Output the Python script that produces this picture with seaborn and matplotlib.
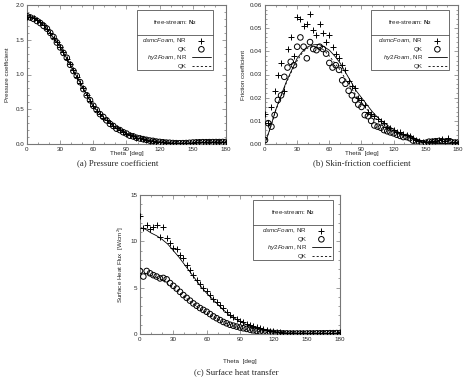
import matplotlib
matplotlib.use("Agg")
import matplotlib.pyplot as plt
from matplotlib.patches import Rectangle
from matplotlib.lines import Line2D
from matplotlib.ticker import MultipleLocator
import seaborn as sns

# theta grids [deg]
theta_dsmc = list(range(0, 181, 3))
theta_cfd = list(range(0, 181, 5))

# (a) pressure coefficient
cp_dsmc_nr = [1.83, 1.83, 1.81, 1.78, 1.75, 1.71, 1.65, 1.59, 1.53, 1.47, 1.40, 1.32, 1.23, 1.15, 1.06,
              0.97, 0.88, 0.80, 0.71, 0.62, 0.54, 0.48, 0.43, 0.38, 0.34, 0.30, 0.26, 0.23, 0.20, 0.17,
              0.15, 0.13, 0.11, 0.09, 0.08, 0.07, 0.06, 0.05, 0.04, 0.035, 0.03, 0.025, 0.02, 0.015, 0.012,
              0.01, 0.01, 0.01, 0.012, 0.015, 0.02, 0.022, 0.024, 0.025, 0.025, 0.026, 0.026, 0.027, 0.027,
              0.028, 0.028]
cp_dsmc_qk = [1.84, 1.82, 1.80, 1.77, 1.74, 1.70, 1.66, 1.60, 1.54, 1.46, 1.39, 1.31, 1.24, 1.14, 1.05,
              0.98, 0.89, 0.79, 0.70, 0.63, 0.55, 0.49, 0.43, 0.39, 0.34, 0.29, 0.26, 0.22, 0.20, 0.17,
              0.15, 0.12, 0.11, 0.09, 0.08, 0.07, 0.06, 0.05, 0.045, 0.035, 0.03, 0.025, 0.02, 0.018, 0.014,
              0.012, 0.011, 0.012, 0.014, 0.017, 0.021, 0.023, 0.025, 0.026, 0.026, 0.027, 0.027, 0.028,
              0.028, 0.029, 0.029]
cp_hy2_nr = [1.83, 1.82, 1.77, 1.71, 1.61, 1.51, 1.40, 1.26, 1.12, 0.97, 0.83, 0.68, 0.54, 0.45, 0.37,
             0.30, 0.24, 0.19, 0.15, 0.115, 0.085, 0.068, 0.053, 0.04, 0.03, 0.022, 0.015, 0.011, 0.01,
             0.012, 0.017, 0.022, 0.025, 0.026, 0.027, 0.028, 0.028]
cp_hy2_qk = [1.83, 1.81, 1.77, 1.70, 1.61, 1.50, 1.39, 1.25, 1.11, 0.97, 0.82, 0.68, 0.54, 0.45, 0.37,
             0.30, 0.24, 0.19, 0.15, 0.115, 0.088, 0.07, 0.055, 0.042, 0.032, 0.024, 0.017, 0.013, 0.012,
             0.014, 0.019, 0.023, 0.026, 0.027, 0.028, 0.029, 0.029]

# (b) skin-friction coefficient
cf_dsmc_nr = [0.013, 0.009, 0.016, 0.023, 0.030, 0.035, 0.023, 0.041, 0.046, 0.038, 0.055, 0.054, 0.051,
              0.052, 0.056, 0.049, 0.047, 0.052, 0.048, 0.044, 0.047, 0.042, 0.039, 0.037, 0.034, 0.032,
              0.027, 0.025, 0.024, 0.020, 0.019, 0.017, 0.014, 0.013, 0.012, 0.011, 0.010, 0.009, 0.0075,
              0.007, 0.006, 0.005, 0.005, 0.0045, 0.004, 0.0035, 0.0025, 0.0017, 0.0012, 0.001, 0.001,
              0.0008, 0.0012, 0.0015, 0.0017, 0.002, 0.0015, 0.0025, 0.001, 0.0008, 0.0006]
cf_dsmc_qk = [0.0017, 0.009, 0.0075, 0.0125, 0.019, 0.021, 0.029, 0.033, 0.0355, 0.034, 0.042, 0.046,
              0.042, 0.037, 0.044, 0.041, 0.0405, 0.042, 0.041, 0.039, 0.035, 0.033, 0.034, 0.032, 0.0275,
              0.026, 0.023, 0.021, 0.019, 0.017, 0.016, 0.0125, 0.012, 0.010, 0.008, 0.0075, 0.007, 0.006,
              0.0055, 0.005, 0.0046, 0.004, 0.0035, 0.003, 0.003, 0.0025, 0.0015, 0.001, 0.0005, 0.0003,
              0.0005, 0.001, 0.001, 0.0012, 0.0013, 0.0012, 0.001, 0.0009, 0.0008, 0.0006, 0.0006]
cf_hy2_nr = [0.0003, 0.007, 0.0147, 0.021, 0.027, 0.032, 0.037, 0.040, 0.042, 0.0428, 0.043, 0.042,
             0.0405, 0.038, 0.035, 0.031, 0.027, 0.023, 0.020, 0.017, 0.014, 0.0115, 0.0095, 0.0078,
             0.0063, 0.005, 0.004, 0.003, 0.0022, 0.0015, 0.001, 0.0007, 0.0005, 0.0003, 0.0002, 0.0001, 0.0]
cf_hy2_qk = [0.0003, 0.007, 0.0145, 0.0205, 0.0265, 0.0315, 0.036, 0.0395, 0.0415, 0.042, 0.0418, 0.0405,
             0.038, 0.035, 0.032, 0.028, 0.0245, 0.021, 0.018, 0.015, 0.0125, 0.0103, 0.0085, 0.007,
             0.0057, 0.0045, 0.0036, 0.0027, 0.002, 0.0014, 0.0009, 0.0006, 0.0004, 0.0003, 0.0002, 0.0001, 0.0]

# (c) surface heat flux [W/cm2]
q_dsmc_nr = [12.7, 11.4, 11.8, 11.3, 11.5, 11.8, 10.5, 11.6, 10.4, 9.8, 9.3, 9.2, 8.5, 8.2, 7.4, 6.9, 6.4,
             5.8, 5.4, 5.0, 4.6, 4.2, 3.8, 3.5, 3.1, 2.8, 2.4, 2.1, 1.85, 1.65, 1.4, 1.25, 1.1, 0.95, 0.85,
             0.75, 0.65, 0.5, 0.43, 0.35, 0.28, 0.24, 0.2, 0.16, 0.13, 0.12, 0.1, 0.09, 0.08, 0.08, 0.08,
             0.09, 0.1, 0.1, 0.11, 0.12, 0.13, 0.14, 0.15, 0.16, 0.17]
q_dsmc_qk = [6.8, 6.2, 6.8, 6.55, 6.35, 6.2, 6.0, 6.05, 5.9, 5.5, 5.2, 4.9, 4.55, 4.2, 3.9, 3.6, 3.3, 3.05,
             2.8, 2.6, 2.4, 2.15, 1.9, 1.7, 1.5, 1.3, 1.15, 1.0, 0.9, 0.8, 0.7, 0.62, 0.55, 0.47, 0.4, 0.33,
             0.28, 0.23, 0.19, 0.15, 0.12, 0.1, 0.08, 0.07, 0.06, 0.05, 0.05, 0.05, 0.05, 0.05, 0.05, 0.06,
             0.06, 0.07, 0.07, 0.08, 0.08, 0.09, 0.09, 0.1, 0.1]
q_hy2_nr = [11.5, 11.3, 10.9, 10.6, 10.2, 9.7, 9.0, 8.3, 7.5, 6.7, 5.9, 5.1, 4.4, 3.8, 3.2, 2.6, 2.1, 1.7,
            1.35, 1.05, 0.8, 0.6, 0.45, 0.33, 0.24, 0.17, 0.12, 0.09, 0.07, 0.06, 0.05, 0.05, 0.05, 0.05,
            0.05, 0.05, 0.05]
q_hy2_qk = [6.6, 6.5, 6.3, 6.1, 5.8, 5.4, 5.0, 4.5, 4.0, 3.5, 3.05, 2.65, 2.25, 1.9, 1.6, 1.3, 1.05, 0.85,
            0.68, 0.53, 0.4, 0.3, 0.22, 0.16, 0.12, 0.09, 0.07, 0.05, 0.04, 0.04, 0.04, 0.04, 0.04, 0.04,
            0.04, 0.04, 0.04]

labels = [r"$\mathit{dsmcFoam}$, NR", "QK", r"$\mathit{hy2Foam}$, NR", "QK"]
key_title = r"free-stream: $\mathbf{N_2}$"

sns.set_theme(style="ticks")
plt.rcParams['font.family'] = ['Liberation Sans', 'DejaVu Sans']
plt.rcParams.update({
    'mathtext.fontset': 'custom',
    'mathtext.rm': 'Liberation Sans',
    'mathtext.it': 'Liberation Sans:italic',
    'mathtext.bf': 'Liberation Sans:bold',
})

W, H = 464, 377
fig = plt.figure(figsize=(W / 100, H / 100), dpi=100)
fs = 4.5
frame = '#777777'


def add_panel(box, nr_pts, qk_pts, nr_line, qk_line, ylim, ymaj, ymin, ylabel, ylab_x,
              caption, cap_x, cap_y, xlab_y, key):
    l, r, t, b = box
    ax = fig.add_axes([l / W, 1 - b / H, (r - l) / W, (b - t) / H])
    sns.lineplot(x=theta_cfd, y=nr_line, ax=ax, color='black', lw=0.6, errorbar=None)
    sns.lineplot(x=theta_cfd, y=qk_line, ax=ax, color='black', lw=0.6, errorbar=None,
                 linestyle=(0, (2.5, 2.5)))
    sns.scatterplot(x=theta_dsmc, y=nr_pts, ax=ax, marker='+', color='black', s=20, linewidth=0.7,
                    zorder=3)
    sns.scatterplot(x=theta_dsmc, y=qk_pts, ax=ax, marker='o', facecolor='none', edgecolor='black',
                    s=16, linewidth=0.7, zorder=3)
    ax.set_xlim(0, 180)
    ax.set_ylim(*ylim)
    ax.xaxis.set_major_locator(MultipleLocator(30))
    ax.xaxis.set_minor_locator(MultipleLocator(10))
    ax.yaxis.set_major_locator(MultipleLocator(ymaj))
    ax.yaxis.set_minor_locator(MultipleLocator(ymin))
    ax.tick_params(which='both', direction='in', top=True, right=True, width=0.5, color=frame,
                   labelsize=fs, pad=2)
    ax.tick_params(which='major', length=3)
    ax.tick_params(which='minor', length=1.6)
    for s in ax.spines.values():
        s.set_color(frame)
        s.set_linewidth(0.8)
    ax.set_xlabel('')
    ax.set_ylabel('')
    fig.text((l + r) / 2 / W, 1 - xlab_y / H, 'Theta  [deg]', fontsize=fs, ha='center', va='center')
    fig.text(ylab_x / W, 1 - (t + b) / 2 / H, ylabel, fontsize=fs, rotation=90, ha='center', va='center')
    fig.text(cap_x / W, 1 - cap_y / H, caption, family='Liberation Serif', fontsize=6.3,
             ha='center', va='center')

    # key box
    kl, kr, kt, kb, ksep = key
    ax.add_patch(Rectangle((kl / W, 1 - kb / H), (kr - kl) / W, (kb - kt) / H, transform=fig.transFigure,
                           facecolor='white', edgecolor='#555555', lw=0.6, zorder=5, clip_on=False))
    ax.add_line(Line2D([kl / W, kr / W], [1 - ksep / H, 1 - ksep / H], transform=fig.transFigure,
                       color='#555555', lw=0.6, zorder=6, clip_on=False))
    fig.text((kl + kr) / 2 / W, 1 - (kt + ksep) / 2 / H, key_title, fontsize=fs, ha='center',
             va='center', zorder=7)
    handles = [ax.collections[0], ax.collections[1], ax.lines[0], ax.lines[1]]
    leg = ax.legend(handles, labels, loc='upper right', bbox_to_anchor=((kr - 1) / W, 1 - (ksep + 0.5) / H),
                    bbox_transform=fig.transFigure, frameon=False, markerfirst=False, fontsize=fs,
                    handlelength=3.0, handletextpad=0.8, labelspacing=0.22, borderpad=0.2,
                    borderaxespad=0)
    leg.set_zorder(8)
    return ax


add_panel((27, 226, 5, 144), cp_dsmc_nr, cp_dsmc_qk, cp_hy2_nr, cp_hy2_qk, (0, 2), 0.5, 0.1,
          'Pressure coefficient', 8, '(a) Pressure coefficient', 118, 163, 153,
          (137, 213, 10, 70, 35))
add_panel((265, 458, 5, 144), cf_dsmc_nr, cf_dsmc_qk, cf_hy2_nr, cf_hy2_qk, (0, 0.06), 0.01, 0.002,
          'Friction coefficient', 244, '(b) Skin-friction coefficient', 362, 163, 153,
          (371, 449, 10, 70, 35))
add_panel((140, 340, 195, 334), q_dsmc_nr, q_dsmc_qk, q_hy2_nr, q_hy2_qk, (0, 15), 5, 1,
          r'Surface Heat Flux  [W/cm$^2$]', 121, '(c) Surface heat transfer', 236, 372, 361,
          (253, 333, 200, 260, 225))

fig.savefig('out.png', dpi=100)
